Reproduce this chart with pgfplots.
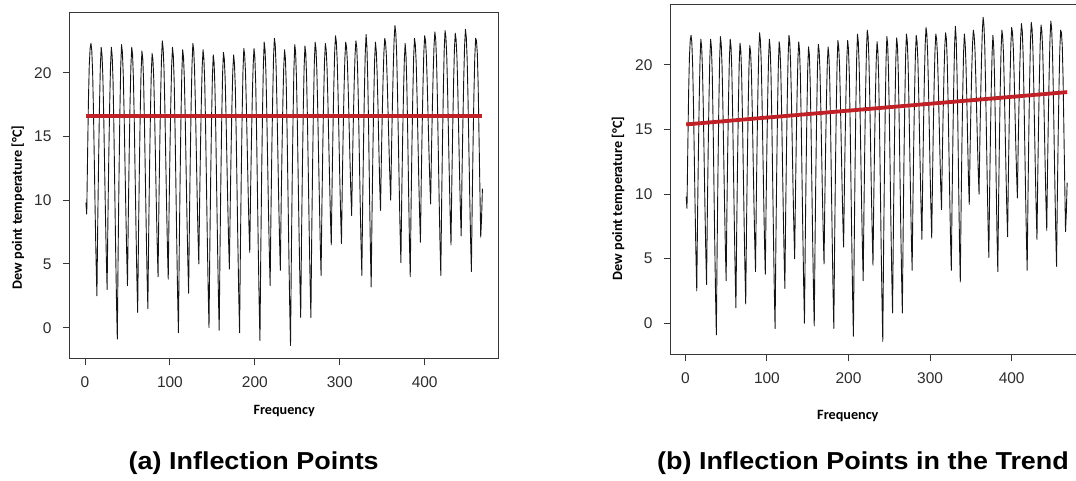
\documentclass[border=0pt]{standalone}
\usepackage{pgfplots}
\pgfplotsset{compat=1.18}
\usepackage{pgfplotstable}
\usepackage{fontspec}
\setmainfont{Liberation Sans}
\newfontfamily\labfont{Carlito}

\definecolor{trendred}{RGB}{192,32,38}
\definecolor{framegray}{RGB}{55,55,55}
\definecolor{ticktext}{RGB}{45,45,45}

% monthly dew point temperature [deg C], months 1..468
\pgfplotstableread[row sep=\\]{
dew\\
9.8\\ 8.9\\ 13.5\\ 17.8\\ 20.6\\ 21.9\\ 22.3\\ 21.7\\ 19.9\\ 16.8\\ 12.8\\ 8.8\\ 5.3\\ 2.5\\
8.4\\ 13.2\\ 17.3\\ 20.4\\ 22.0\\ 21.4\\ 19.7\\ 16.7\\ 12.9\\ 9.1\\ 5.7\\ 3.0\\
8.7\\ 13.5\\ 17.4\\ 20.5\\ 22.0\\ 21.3\\ 19.3\\ 15.6\\ 11.0\\ 6.4\\ 2.3\\ -0.9\\
6.0\\ 11.8\\ 16.7\\ 20.4\\ 22.2\\ 21.6\\ 19.9\\ 16.9\\ 13.1\\ 9.4\\ 6.0\\ 3.3\\
8.9\\ 13.6\\ 17.5\\ 20.5\\ 22.0\\ 21.4\\ 19.5\\ 16.2\\ 12.0\\ 7.9\\ 4.1\\ 1.2\\
7.4\\ 12.5\\ 16.8\\ 20.1\\ 21.7\\ 21.1\\ 19.3\\ 16.0\\ 12.0\\ 8.0\\ 4.3\\ 1.5\\
7.5\\ 12.5\\ 16.7\\ 19.9\\ 21.5\\ 21.0\\ 19.4\\ 16.6\\ 13.1\\ 9.6\\ 6.5\\ 4.0\\
9.6\\ 14.2\\ 18.1\\ 21.0\\ 22.5\\ 21.9\\ 20.3\\ 17.3\\ 13.5\\ 9.8\\ 6.4\\ 3.8\\
9.3\\ 13.8\\ 17.6\\ 20.5\\ 22.0\\ 21.3\\ 19.3\\ 15.7\\ 11.3\\ 6.8\\ 2.7\\ -0.4\\
6.3\\ 11.8\\ 16.5\\ 20.0\\ 21.8\\ 21.2\\ 19.5\\ 16.5\\ 12.6\\ 8.8\\ 5.4\\ 2.7\\
8.6\\ 13.5\\ 17.6\\ 20.7\\ 22.3\\ 21.8\\ 20.2\\ 17.5\\ 14.0\\ 10.5\\ 7.4\\ 5.0\\
10.0\\ 14.2\\ 17.8\\ 20.5\\ 21.8\\ 21.1\\ 19.2\\ 15.7\\ 11.3\\ 7.0\\ 3.1\\ 0.0\\
6.4\\ 11.8\\ 16.3\\ 19.7\\ 21.4\\ 20.8\\ 18.8\\ 15.4\\ 11.0\\ 6.7\\ 2.8\\ -0.2\\
6.3\\ 11.8\\ 16.4\\ 19.9\\ 21.6\\ 21.1\\ 19.6\\ 16.8\\ 13.4\\ 10.0\\ 7.0\\ 4.6\\
9.6\\ 13.8\\ 17.4\\ 20.1\\ 21.4\\ 20.7\\ 18.8\\ 15.3\\ 10.9\\ 6.6\\ 2.7\\ -0.4\\
6.3\\ 11.9\\ 16.6\\ 20.1\\ 21.9\\ 21.4\\ 20.0\\ 17.4\\ 14.2\\ 11.0\\ 8.1\\ 5.9\\
10.7\\ 14.7\\ 18.1\\ 20.6\\ 21.9\\ 21.2\\ 19.2\\ 15.5\\ 10.9\\ 6.3\\ 2.2\\ -1.0\\
6.0\\ 11.9\\ 16.8\\ 20.5\\ 22.4\\ 21.8\\ 20.1\\ 17.1\\ 13.2\\ 9.4\\ 6.0\\ 3.3\\
9.1\\ 14.0\\ 18.0\\ 21.2\\ 22.7\\ 22.2\\ 20.5\\ 17.6\\ 14.0\\ 10.3\\ 7.1\\ 4.5\\
9.7\\ 14.0\\ 17.7\\ 20.4\\ 21.8\\ 21.1\\ 19.0\\ 15.3\\ 10.7\\ 6.0\\ 1.9\\ -1.4\\
5.7\\ 11.6\\ 16.5\\ 20.3\\ 22.2\\ 21.6\\ 19.6\\ 16.2\\ 11.9\\ 7.6\\ 3.8\\ 0.8\\
7.2\\ 12.5\\ 17.0\\ 20.4\\ 22.1\\ 21.5\\ 19.5\\ 16.1\\ 11.9\\ 7.6\\ 3.8\\ 0.8\\
7.3\\ 12.7\\ 17.2\\ 20.7\\ 22.4\\ 21.9\\ 20.2\\ 17.3\\ 13.6\\ 10.0\\ 6.7\\ 4.1\\
9.6\\ 14.1\\ 17.9\\ 20.8\\ 22.3\\ 21.8\\ 20.4\\ 17.9\\ 14.7\\ 11.6\\ 8.7\\ 6.5\\
11.4\\ 15.5\\ 19.0\\ 21.6\\ 22.9\\ 22.4\\ 20.9\\ 18.3\\ 15.1\\ 11.8\\ 8.9\\ 6.6\\
11.3\\ 15.3\\ 18.6\\ 21.1\\ 22.4\\ 22.0\\ 20.8\\ 18.6\\ 15.9\\ 13.2\\ 10.7\\ 8.8\\
12.9\\ 16.3\\ 19.2\\ 21.4\\ 22.5\\ 22.0\\ 20.3\\ 17.4\\ 13.7\\ 10.0\\ 6.7\\ 4.1\\
9.8\\ 14.5\\ 18.5\\ 21.5\\ 23.0\\ 22.0\\ 19.4\\ 15.5\\ 10.7\\ 6.4\\ 3.2\\
9.0\\ 13.8\\ 17.8\\ 20.9\\ 22.4\\ 21.7\\ 20.0\\ 17.4\\ 14.2\\ 11.3\\ 9.2\\
13.3\\ 16.6\\ 19.5\\ 21.6\\ 22.7\\ 22.3\\ 21.2\\ 19.1\\ 16.6\\ 14.1\\ 11.8\\ 10.0\\
14.1\\ 17.5\\ 20.4\\ 22.6\\ 23.7\\ 23.1\\ 21.5\\ 18.5\\ 14.8\\ 11.1\\ 7.7\\ 5.1\\
10.3\\ 14.6\\ 18.2\\ 20.9\\ 22.3\\ 21.4\\ 19.0\\ 15.3\\ 11.0\\ 6.9\\ 4.0\\
9.6\\ 14.3\\ 18.2\\ 21.2\\ 22.7\\ 22.2\\ 20.8\\ 18.2\\ 15.0\\ 11.8\\ 8.9\\ 6.7\\
11.6\\ 15.6\\ 19.0\\ 21.6\\ 22.9\\ 22.5\\ 21.3\\ 19.2\\ 16.6\\ 13.9\\ 11.6\\ 9.7\\
13.8\\ 17.1\\ 20.0\\ 22.1\\ 23.2\\ 22.6\\ 20.9\\ 17.9\\ 14.0\\ 10.2\\ 6.8\\ 4.1\\
9.9\\ 14.7\\ 18.7\\ 21.8\\ 23.3\\ 22.8\\ 21.3\\ 18.6\\ 15.2\\ 11.9\\ 8.9\\ 6.5\\
11.5\\ 15.6\\ 19.1\\ 21.8\\ 23.1\\ 22.6\\ 21.2\\ 18.7\\ 15.5\\ 12.3\\ 9.4\\ 7.2\\
12.1\\ 16.1\\ 19.5\\ 22.1\\ 23.4\\ 22.8\\ 21.1\\ 18.1\\ 14.3\\ 10.5\\ 7.1\\ 4.4\\
9.9\\ 14.5\\ 18.3\\ 21.2\\ 22.7\\ 22.5\\ 21.5\\ 19.0\\ 15.0\\ 11.0\\ 7.1\\ 8.6\\ 10.9\\
}\dewtable

\pgfplotsset{
  rplot/.style={
    scale only axis,
    xmin=-17.7, xmax=486.7, ymin=-2.4, ymax=24.7,
    xtick={0,100,200,300,400}, ytick={0,5,10,15,20},
    minor tick num=0,
    xtick pos=left, ytick pos=left,
    tick align=outside, major tick length=7pt,
    axis line style={framegray, line width=1pt},
    every tick/.style={framegray, line width=1pt},
    tick label style={font=\fontsize{15.5}{18}\selectfont, text=ticktext},
    xticklabel style={yshift=-8pt},
    yticklabel style={xshift=-8pt},
    /pgf/number format/assume math mode=true,
    label style={font=\labfont\bfseries\fontsize{14.2}{16}\selectfont, text=black},
    xlabel={Frequency},
    ylabel={Dew point temperature [°C]},
  },
  dewline/.style={black!92, line width=0.9pt, line join=round, mark=none},
  trendline/.style={trendred, line width=3.8pt, mark=none},
}

\begin{document}
\begin{tikzpicture}[x=1pt, y=1pt]
\begin{scope}
\clip (0,0) rectangle (1076,481);

% left panel: inflection points around the mean
\begin{axis}[rplot,
  at={(70pt,122.7pt)}, anchor=south west,
  width=428.3pt, height=345.5pt,
  xlabel style={at={(axis description cs:0.5,-0.1525)}, anchor=center},
  ylabel style={at={(axis description cs:-0.1221,0.4365)}, anchor=center},
]
\addplot[dewline] table[x expr=\coordindex+1, y=dew] {\dewtable};
\addplot[trendline] coordinates {(1,16.6) (468,16.6)};
\end{axis}

% right panel: inflection points along the linear trend
\begin{axis}[rplot,
  at={(670.9pt,126.7pt)}, anchor=south west,
  width=411.5pt, height=350pt,
  xlabel style={at={(axis description cs:0.43,-0.176)}, anchor=center},
  ylabel style={at={(axis description cs:-0.1286,0.445)}, anchor=center},
]
\addplot[dewline] table[x expr=\coordindex+1, y=dew] {\dewtable};
\addplot[trendline] coordinates {(1,15.4) (468,17.9)};
\end{axis}
\end{scope}

\node[font=\fontsize{24.5}{28}\selectfont\bfseries] at (253.7,18) {\scalebox{1.1}[1]{(a) Inflection Points}};
\node[font=\fontsize{24.5}{28}\selectfont\bfseries] at (863,18) {\scalebox{1.1}[1]{(b) Inflection Points in the Trend}};

\pgfresetboundingbox
\useasboundingbox (0,0) rectangle (1076,481);
\end{tikzpicture}
\end{document}
